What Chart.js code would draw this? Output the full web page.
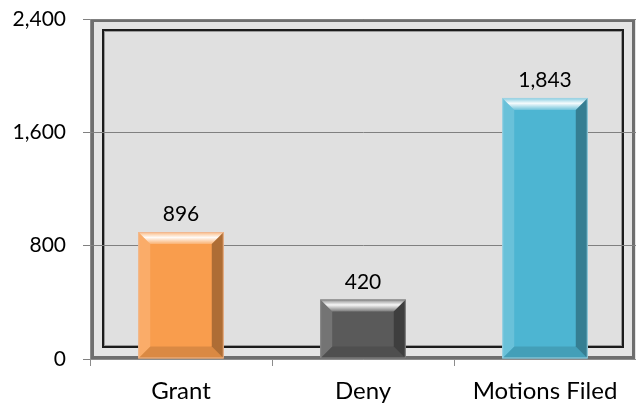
<!DOCTYPE html>
<html lang="en">
<head>
    <meta charset="UTF-8">
    <title>Motions</title>
    <script src="https://cdnjs.cloudflare.com/ajax/libs/Chart.js/4.4.1/chart.umd.min.js"></script>
    <style>
        html, body { margin: 0; padding: 0; background: #fff; }
        .chart-box { width: 636px; height: 406px; position: relative; }
    </style>
</head>
<body>
    <div class="chart-box">
        <canvas id="barChart"></canvas>
    </div>

    <script>
        const categories = ['Grant', 'Deny', 'Motions Filed'];
        const counts = [896, 420, 1843];
        const barColors = ['#f99d4d', '#5a5a5a', '#4db5d2'];
        const edgeColors = ['#f0b890', '#8a8a8a', '#9fd3e3'];
        const yTicks = [0, 800, 1600, 2400];

        const fmt = v => v.toLocaleString('en-US');

        // gray panel with the double frame behind the bars
        const framePlugin = {
            id: 'frame',
            beforeDraw(chart) {
                const { ctx, chartArea: a } = chart;
                ctx.save();
                ctx.fillStyle = '#e4e4e4';
                ctx.fillRect(a.left, a.top, a.right - a.left, a.bottom - a.top);
                ctx.fillStyle = '#e0e0e0';
                ctx.fillRect(a.left + 12, a.top + 10, a.right - a.left - 24, a.bottom - a.top - 22);
                // outer line
                ctx.strokeStyle = '#6e6e6e';
                ctx.lineWidth = 3;
                ctx.strokeRect(a.left + 2.5, a.top + 1.5, a.right - a.left - 5, a.bottom - a.top - 3);
                // inner line with soft shadow
                ctx.strokeStyle = '#9a9a9a';
                ctx.lineWidth = 2;
                ctx.strokeRect(a.left + 14, a.top + 12, a.right - a.left - 28, a.bottom - a.top - 25);
                ctx.strokeStyle = '#1c1c1c';
                ctx.lineWidth = 2;
                ctx.strokeRect(a.left + 13, a.top + 11, a.right - a.left - 26, a.bottom - a.top - 23);
                ctx.restore();
            }
        };

        // bevel on each bar plus the value label
        const bevelPlugin = {
            id: 'bevel',
            afterDatasetsDraw(chart) {
                const { ctx } = chart;
                const meta = chart.getDatasetMeta(0);
                meta.data.forEach((bar, i) => {
                    const l = bar.x - bar.width / 2, r = bar.x + bar.width / 2;
                    const t = bar.y, b = bar.base;
                    const d = Math.min(12, (b - t) / 3);
                    ctx.save();
                    const poly = (pts, fill) => {
                        ctx.beginPath();
                        ctx.moveTo(pts[0][0], pts[0][1]);
                        pts.slice(1).forEach(p => ctx.lineTo(p[0], p[1]));
                        ctx.closePath();
                        ctx.fillStyle = fill;
                        ctx.fill();
                    };
                    const g = ctx.createLinearGradient(0, t, 0, t + d);
                    g.addColorStop(0, 'rgba(255,255,255,0.3)');
                    g.addColorStop(0.45, 'rgba(255,255,255,0.95)');
                    g.addColorStop(1, 'rgba(255,255,255,0.2)');
                    poly([[l, t], [r, t], [r - d, t + d], [l + d, t + d]], g);
                    poly([[l, t], [l + d, t + d], [l + d, b - d], [l, b]], 'rgba(255,255,255,0.16)');
                    poly([[r, t], [r, b], [r - d, b - d], [r - d, t + d]], 'rgba(0,0,0,0.3)');
                    poly([[l, b], [l + d, b - d], [r - d, b - d], [r, b]], 'rgba(0,0,0,0.12)');
                    ctx.strokeStyle = edgeColors[i];
                    ctx.lineWidth = 1;
                    ctx.strokeRect(l + 0.5, t + 0.5, r - l - 1, b - t - 1);

                    ctx.fillStyle = '#000';
                    ctx.font = '21px Lato';
                    ctx.textAlign = 'center';
                    ctx.textBaseline = 'alphabetic';
                    ctx.fillText(fmt(counts[i]), bar.x, t - 11);
                    ctx.restore();
                });
            }
        };

        new Chart(document.getElementById('barChart'), {
            type: 'bar',
            data: {
                labels: categories,
                datasets: [{
                    data: counts,
                    backgroundColor: barColors,
                    borderWidth: 0,
                    barPercentage: 0.94,
                    categoryPercentage: 0.5
                }]
            },
            options: {
                responsive: true,
                maintainAspectRatio: false,
                animation: false,
                layout: { padding: { top: 19, right: 0, left: 0, bottom: 0 } },
                plugins: {
                    legend: { display: false },
                    tooltip: { enabled: false }
                },
                scales: {
                    x: {
                        afterFit(scale) {
                            scale.height = 47;
                            scale.paddingLeft = 0;
                            scale.paddingRight = 0;
                        },
                        grid: {
                            offset: true,
                            drawOnChartArea: false,
                            color: '#8c8c8c',
                            tickLength: 7
                        },
                        border: { color: '#8c8c8c', width: 1 },
                        ticks: {
                            color: '#000',
                            font: { family: 'Lato', size: 24 },
                            padding: 11
                        }
                    },
                    y: {
                        min: 0,
                        max: 2400,
                        afterFit(scale) {
                            scale.width = 90;
                            scale.paddingTop = 0;
                            scale.paddingBottom = 0;
                        },
                        afterBuildTicks(scale) {
                            scale.ticks = yTicks.map(v => ({ value: v }));
                        },
                        grid: {
                            color: '#808080',
                            tickLength: 7
                        },
                        border: { color: '#8c8c8c', width: 1 },
                        ticks: {
                            color: '#000',
                            font: { family: 'Lato', size: 21 },
                            padding: 17,
                            callback: v => fmt(v)
                        }
                    }
                }
            },
            plugins: [framePlugin, bevelPlugin]
        });
    </script>
</body>
</html>
